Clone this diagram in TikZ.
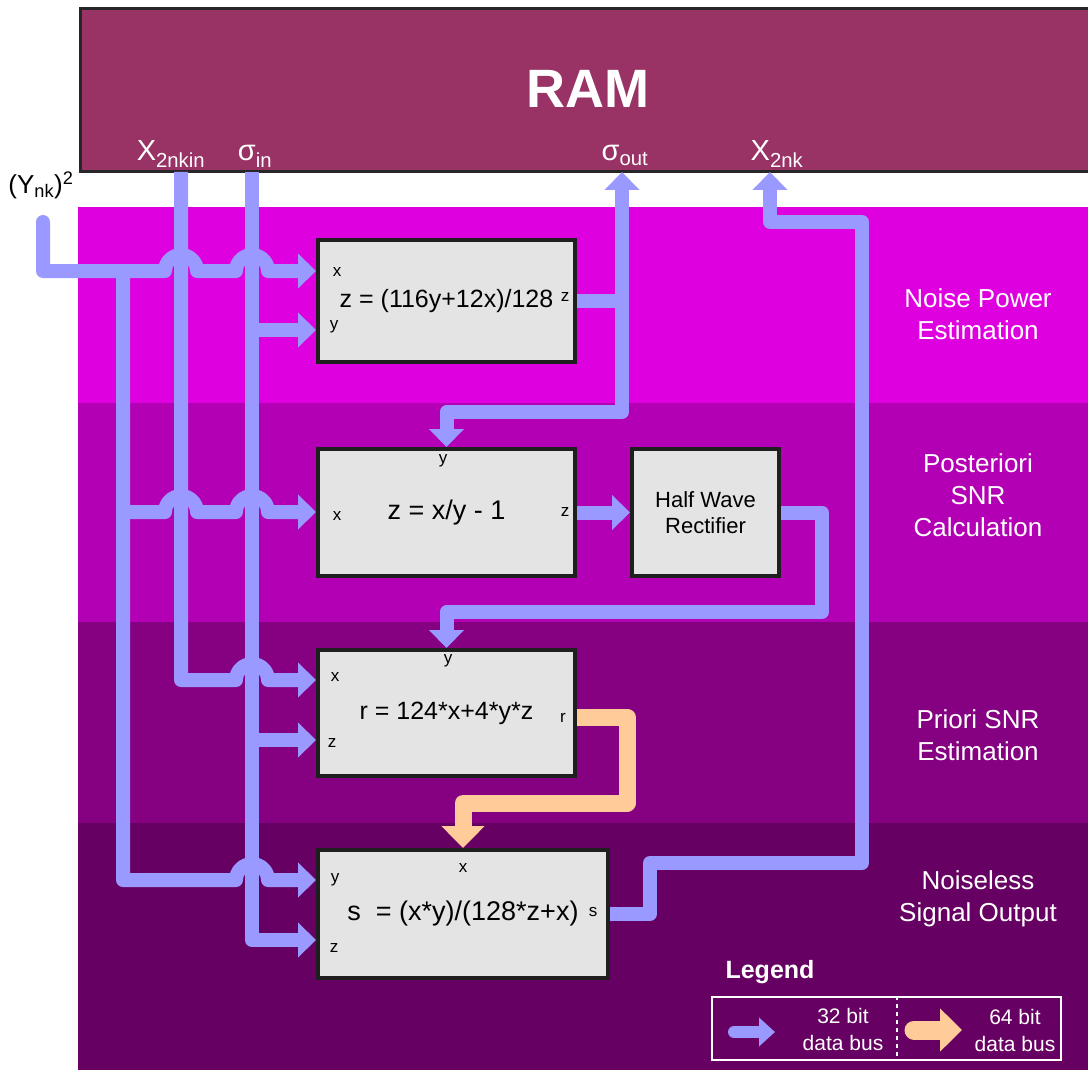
\documentclass[tikz,border=0pt]{standalone}
\usepackage{fontspec}
\setmainfont{Liberation Sans}
\usetikzlibrary{arrows.meta}

\definecolor{ramfill}{HTML}{993366}
\definecolor{bandA}{HTML}{DF00DF}
\definecolor{bandB}{HTML}{B400B4}
\definecolor{bandC}{HTML}{860082}
\definecolor{bandD}{HTML}{660062}
\definecolor{busblue}{HTML}{9999FF}
\definecolor{busorange}{HTML}{FFCC99}
\definecolor{blockfill}{HTML}{E4E4E4}

\tikzset{
  bus/.style={draw=busblue,line width=14pt,line join=round,>={Triangle[width=34pt,length=18pt]}},
  widebus/.style={draw=busorange,line width=17pt,line join=round,>={Triangle[width=42pt,length=22pt]}},
  block/.style={draw=black!88,line width=4pt,fill=blockfill,inner sep=0pt,font=\fontsize{25}{30}\selectfont},
  port/.style={inner sep=0pt,font=\fontsize{17}{19}\selectfont},
  stage/.style={white,align=center,font=\fontsize{26}{32}\selectfont},
  ramport/.style={white,anchor=base,inner sep=0pt,font=\fontsize{29}{32}\selectfont},
  legendtext/.style={white,align=center,font=\fontsize{21}{27}\selectfont}
}

\begin{document}
\begin{tikzpicture}[x=1pt,y=-1pt]
  \useasboundingbox (0,0) rectangle (1088,1070);
  \fill[white] (0,0) rectangle (1088,1070);

  % stage bands and their names
  \foreach \ya/\yb/\c in {207/403/bandA,403/622/bandB,622/823/bandC,823/1070/bandD}
    \fill[\c] (78,\ya) rectangle (1088,\yb);
  \foreach \y/\t in {314/Noise Power\\Estimation,495/Posteriori\\SNR\\Calculation,735/Priori SNR\\Estimation,899/Noiseless\\Signal Output}
    \node[stage] (stage\y) at (978,\y) {\t};

  % memory
  \draw[fill=ramfill,draw=black!85,line width=3pt] (80,9) rectangle (1100,172);
  \node[white,anchor=base,font=\fontsize{54}{60}\selectfont\bfseries] (ram) at (588,108) {RAM};
  \node[ramport] (lxin) at (171,161) {X\textsubscript{2nkin}};
  \node[ramport] (lsin) at (255,161) {σ\textsubscript{in}};
  \node[ramport] (lsout) at (625,161) {σ\textsubscript{out}};
  \node[ramport] (lxout) at (777,161) {X\textsubscript{2nk}};
  \coordinate (xin) at (181,172);
  \coordinate (sin) at (252,172);
  \coordinate (sout) at (622,172);
  \coordinate (xout) at (770,172);

  \node[font=\fontsize{26}{30}\selectfont,inner sep=0pt] (lynk) at (41,185) {(Y\textsubscript{nk})\textsuperscript{2}};
  \coordinate (ynk) at (43,222);

  % processing blocks
  \node[block,minimum width=257pt,minimum height=122pt] (np) at (446.5,301) {z = (116y+12x)/128};
  \node[block,minimum width=257pt,minimum height=127pt,font=\fontsize{27}{30}\selectfont] (post) at (446.5,512.5) {z = x/y - 1};
  \node[block,minimum width=147pt,minimum height=127pt,align=center,font=\fontsize{22}{26}\selectfont] (hwr) at (705.5,512.5) {Half Wave\\Rectifier};
  \node[block,minimum width=257pt,minimum height=126pt] (pri) at (446.5,713) {r = 124*x+4*y*z};
  \node[block,minimum width=290pt,minimum height=128pt,font=\fontsize{27}{30}\selectfont] (out) at (463,914) {s\ \ = (x*y)/(128*z+x)};

  % port labels
  \node[port] (np-lx) at (337,272) {x};
  \node[port] (np-ly) at (334,327) {y};
  \node[port] (np-lz) at (565,297) {z};
  \node[port] (post-ly) at (443,461) {y};
  \node[port] (post-lx) at (337,516) {x};
  \node[port] (post-lz) at (565,512) {z};
  \node[port] (pri-ly) at (448,661) {y};
  \node[port] (pri-lx) at (335,677) {x};
  \node[port] (pri-lz) at (332,743) {z};
  \node[port] (pri-lr) at (563,718) {r};
  \node[port] (out-lx) at (463,868) {x};
  \node[port] (out-ly) at (335,880) {y};
  \node[port] (out-lz) at (334,948) {z};
  \node[port] (out-ls) at (593,912) {s};

  \coordinate (np-x) at (316,271);
  \coordinate (np-y) at (316,330);
  \coordinate (post-x) at (316,512);
  \coordinate (pri-x) at (316,680);
  \coordinate (pri-z) at (316,740);
  \coordinate (pri-r) at (577,717);
  \coordinate (out-y) at (316,880);
  \coordinate (out-z) at (316,940);

  % 32 bit buses
  \draw[bus,->,line cap=round] (ynk) |- (165,271) arc[start angle=180,end angle=360,radius=16]
    -- (236,271) arc[start angle=180,end angle=360,radius=16] -- (np-x);
  \draw[bus,->] (123,271) |- (236,880) arc[start angle=180,end angle=360,radius=16] -- (out-y);
  \draw[bus,->] (123,512) -- (165,512) arc[start angle=180,end angle=360,radius=16]
    -- (236,512) arc[start angle=180,end angle=360,radius=16] -- (post-x);
  \draw[bus,->] (xin) |- (236,680) arc[start angle=180,end angle=360,radius=16] -- (pri-x);
  \draw[bus,->] (sin) |- (out-z);
  \draw[bus,->] (252,330) -- (np-y);
  \draw[bus,->] (252,740) -- (pri-z);

  \draw[bus] (np.east) -- (np.east -| sout);
  \draw[bus,<->] (post.north) |- (622,412) -- (sout);
  \draw[bus,->] (post.east) -- (hwr.west);
  \draw[bus,->] (hwr.east) -| (822,612) -| (pri.north);
  \draw[bus,->] (out.east) -| (650,863) -| (862,222) -| (xout);

  % 64 bit bus
  \draw[widebus,->] (pri-r) -| (627,803) -| (out.north);

  % legend
  \node[white,font=\fontsize{25}{30}\selectfont\bfseries] (legend) at (770,972) {Legend};
  \node[draw=white,line width=1.2pt,minimum width=349pt,minimum height=63pt,inner sep=0pt] (legbox) at (886.5,1028.5) {};
  \draw[white,line width=1.5pt,dash pattern=on 4pt off 4pt] (legbox.north -| 897,0) -- (legbox.south -| 897,0);
  \coordinate (k32a) at (734,1032);
  \coordinate (k32b) at (775,1032);
  \coordinate (k64a) at (914,1030);
  \coordinate (k64b) at (962,1030);
  \draw[bus,->,line cap=round,line width=12pt,>={Triangle[width=28pt,length=16pt]}] (k32a) -- (k32b);
  \draw[widebus,->,line cap=round,line width=19pt,>={Triangle[width=42pt,length=22pt]}] (k64a) -- (k64b);
  \node[legendtext] (l32) at (843,1029) {32 bit\\data bus};
  \node[legendtext] (l64) at (1015,1030) {64 bit\\data bus};
\end{tikzpicture}
\end{document}
